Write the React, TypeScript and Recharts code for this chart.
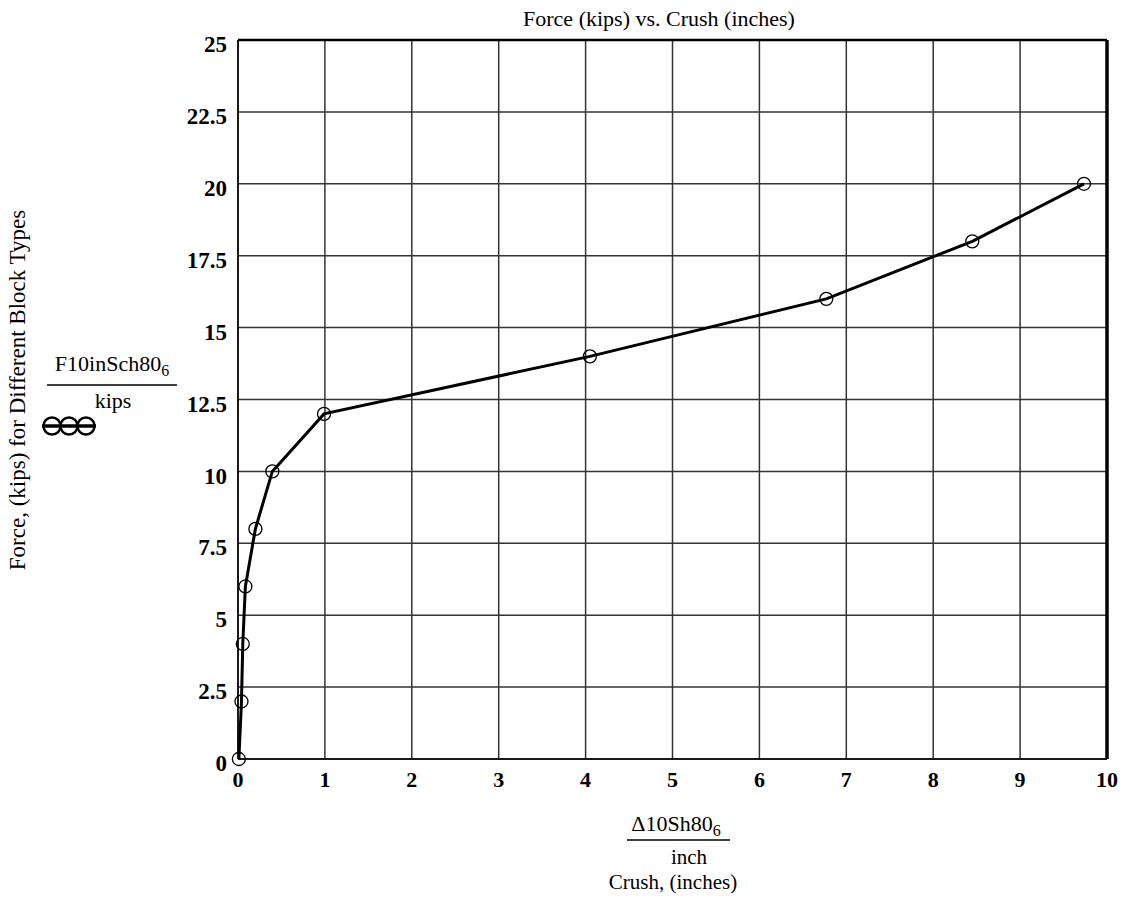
import React from "react";
import { LineChart, Line, XAxis, YAxis, CartesianGrid, ReferenceLine } from "recharts";

// crush (inches), one per force step
const crushInches = [0.01, 0.04, 0.055, 0.085, 0.2, 0.395, 0.99, 4.05, 6.77, 8.45, 9.735];
const forceKips = [0, 2, 4, 6, 8, 10, 12, 14, 16, 18, 20];

const xTicks = [0, 1, 2, 3, 4, 5, 6, 7, 8, 9, 10];
const yTicks = [0, 2.5, 5, 7.5, 10, 12.5, 15, 17.5, 20, 22.5, 25];

const chartTitle = "Force (kips) vs. Crush (inches)";
const yAxisTitle = "Force, (kips) for Different Block Types";
const xAxisTitle = "Crush, (inches)";

const data = crushInches.map((c, i) => ({ crush: c, force: forceKips[i] }));

const serif = "Liberation Serif, Times New Roman, DejaVu Serif, serif";

export default function App() {
  return (
    <div style={{ position: "absolute", left: 0, top: 0, width: 1130, height: 898, background: "#fff", fontFamily: serif }}>
      <LineChart width={1130} height={898} data={data} margin={{ top: 40, right: 23, left: 0, bottom: 0 }}>
        <CartesianGrid stroke="#333" strokeWidth={1.5} />
        <XAxis
          dataKey="crush"
          type="number"
          domain={[0, 10]}
          ticks={xTicks}
          height={139}
          axisLine={{ stroke: "#000", strokeWidth: 1.5 }}
          tickLine={false}
          tickSize={0}
          tickMargin={12}
          tick={{ fontSize: 22, fontWeight: "bold", fill: "#000", style: { fontFamily: serif } }}
        />
        <YAxis
          dataKey="force"
          type="number"
          domain={[0, 25]}
          ticks={yTicks}
          width={238}
          axisLine={{ stroke: "#000", strokeWidth: 1.5 }}
          tickLine={false}
          tickSize={0}
          tickMargin={11}
          tick={{ fontSize: 23, fontWeight: "bold", fill: "#000", dy: 4, style: { fontFamily: serif } }}
        />
        <ReferenceLine y={25} stroke="#000" strokeWidth={2.5} />
        <ReferenceLine x={10} stroke="#000" strokeWidth={3.5} />
        <Line
          type="linear"
          dataKey="force"
          stroke="#000"
          strokeWidth={3}
          dot={{ r: 6.5, stroke: "#000", strokeWidth: 1.3, fill: "none" }}
          activeDot={false}
          isAnimationActive={false}
        />
      </LineChart>
      <svg
        width={1130}
        height={898}
        style={{ position: "absolute", left: 0, top: 0, pointerEvents: "none", fontFamily: serif }}
        fill="#000"
      >
        <text x={659} y={26} fontSize={22} textAnchor="middle">{chartTitle}</text>
        <text x={25} y={390} fontSize={23} textAnchor="middle" transform="rotate(-90, 25, 390)">{yAxisTitle}</text>

        {/* y-axis variable as a fraction, with its legend symbol */}
        <text x={112} y={371} fontSize={22} textAnchor="middle">
          F10inSch80<tspan fontSize={16} dy={5}>6</tspan>
        </text>
        <line x1={47} x2={177} y1={385} y2={385} stroke="#000" strokeWidth={1.3} />
        <text x={113} y={408} fontSize={22} textAnchor="middle">kips</text>
        <line x1={42} x2={96} y1={426} y2={426} stroke="#000" strokeWidth={3.5} />
        {[52, 69, 86].map((cx) => (
          <circle key={cx} cx={cx} cy={426} r={8.5} stroke="#000" strokeWidth={2.5} fill="none" />
        ))}

        {/* x-axis variable as a fraction */}
        <text x={676} y={831} fontSize={22} textAnchor="middle">
          Δ10Sh80<tspan fontSize={16} dy={5}>6</tspan>
        </text>
        <line x1={627} x2={730} y1={840} y2={840} stroke="#000" strokeWidth={1.3} />
        <text x={689} y={864} fontSize={21} textAnchor="middle">inch</text>
        <text x={673} y={889} fontSize={21} textAnchor="middle">{xAxisTitle}</text>
      </svg>
    </div>
  );
}
